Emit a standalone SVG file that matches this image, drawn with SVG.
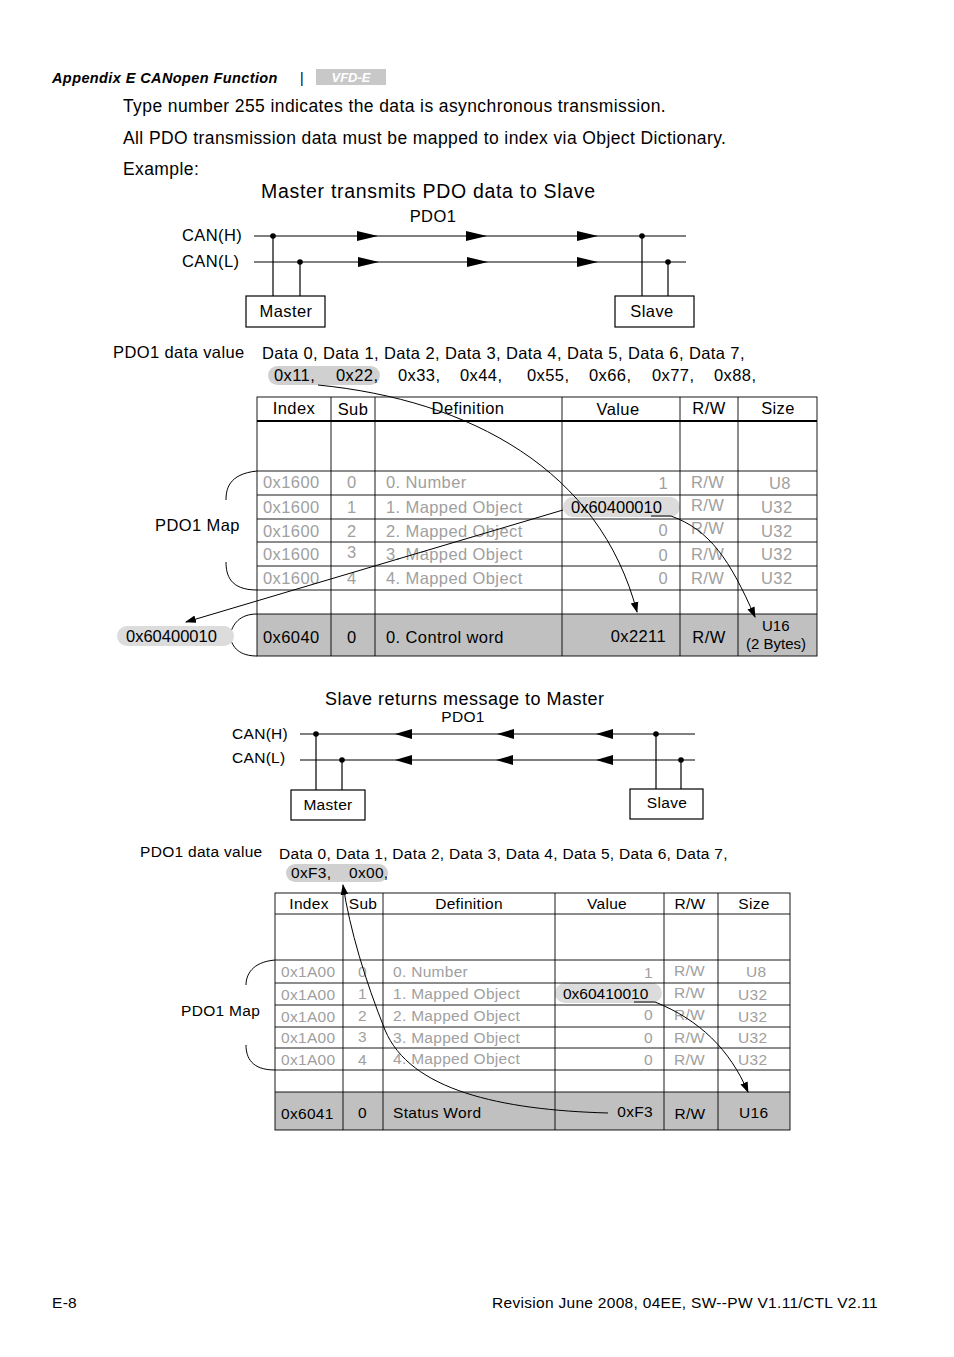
<svg xmlns="http://www.w3.org/2000/svg" width="954" height="1357" viewBox="0 0 954 1357">
<style>
text{font-family:"Liberation Sans",Arial,sans-serif;fill:#000}
.b{font-size:17.5px;letter-spacing:0.4px}
.t{font-size:16.5px;letter-spacing:0.4px}
.s{font-size:15.5px;letter-spacing:0.3px}
.g text{fill:#a0a0a0}
.ln{stroke:#000;stroke-width:1.2;fill:none}
.th{stroke:#000;stroke-width:0.9;fill:none}
.c{stroke:#000;stroke-width:1;fill:none}
.e{text-anchor:end}
.m{text-anchor:middle}
</style>
<defs>
<marker id="ah" viewBox="0 0 10 10" refX="9" refY="5" markerWidth="11" markerHeight="11" markerUnits="userSpaceOnUse" orient="auto"><path d="M0,1.5 L10,5 L0,8.5 Z" fill="#000"/></marker>
</defs>
<rect width="954" height="1357" fill="#fff"/>
<g id="header">
<text x="52" y="83" style="font-size:14.5px;font-weight:bold;font-style:italic;letter-spacing:0.4px">Appendix E  CANopen Function</text>
<text x="300" y="83" style="font-size:14px">|</text>
<rect x="316" y="69" width="70" height="16" fill="#c8c8c8"/>
<text x="351" y="82" class="m" style="font-size:13px;font-weight:bold;font-style:italic;fill:#fff">VFD-E</text>
</g>
<g id="intro">
<text x="123" y="112" class="b">Type number 255 indicates the data is asynchronous transmission.</text>
<text x="123" y="144" class="b">All PDO transmission data must be mapped to index via Object Dictionary.</text>
<text x="123" y="175" class="b">Example:</text>
</g>
<g id="bus1">
<text x="261" y="198" style="font-size:19.5px;letter-spacing:0.7px">Master transmits PDO data to Slave</text>
<text x="433" y="222" class="t m">PDO1</text>
<text x="182" y="241" class="t">CAN(H)</text>
<text x="182" y="267" class="t">CAN(L)</text>
<line class="ln" x1="254" y1="236" x2="686" y2="236"/>
<line class="ln" x1="254" y1="262" x2="686" y2="262"/>
<line class="ln" x1="273" y1="236" x2="273" y2="296"/>
<line class="ln" x1="300" y1="262" x2="300" y2="296"/>
<line class="ln" x1="642" y1="236" x2="642" y2="296"/>
<line class="ln" x1="668" y1="262" x2="668" y2="296"/>
<circle cx="273" cy="236" r="2.8"/><circle cx="300" cy="262" r="2.8"/>
<circle cx="642" cy="236" r="2.8"/><circle cx="668" cy="262" r="2.8"/>
<path d="M357,231 L378,236 L357,241Z M466,231 L487,236 L466,241Z M577,231 L598,236 L577,241Z M358,257 L379,262 L358,267Z M467,257 L488,262 L467,267Z M577,257 L598,262 L577,267Z"/>
</g>
<g id="master1"><rect class="ln" x="246" y="296" width="79" height="31"/><text x="286" y="317" class="t m">Master</text></g>
<g id="slave1"><rect class="ln" x="615" y="296" width="79" height="31"/><text x="652" y="317" class="t m">Slave</text></g>
<g id="data1">
<text x="113" y="358" class="t">PDO1 data value</text>
<text x="262" y="359" class="t">Data 0, Data 1, Data 2, Data 3, Data 4, Data 5, Data 6, Data 7,</text>
<rect x="268" y="366" width="112" height="19" rx="9.5" fill="#d0d0d0"/>
<g class="t">
<text x="274" y="381">0x11,</text><text x="336" y="381">0x22,</text><text x="398" y="381">0x33,</text><text x="460" y="381">0x44,</text><text x="527" y="381">0x55,</text><text x="589" y="381">0x66,</text><text x="652" y="381">0x77,</text><text x="714" y="381">0x88,</text>
</g>
</g>
<g id="table1">
<rect x="257" y="614" width="560" height="42" fill="#c0c0c0"/>
<rect x="563" y="497" width="117" height="20" rx="10" fill="#dcdcdc"/>
<rect class="th" x="257" y="397" width="560" height="259"/>
<line x1="257" y1="421" x2="817" y2="421" stroke="#000" stroke-width="2.2"/>
<path class="th" d="M257,471H817M257,495H817M257,519H817M257,542H817M257,566H817M257,590H817M257,614H817M331,397V656M375,397V656M562,397V656M680,397V656M738,397V656"/>
<g class="t">
<text x="294" y="414" class="m">Index</text><text x="353" y="415" class="m">Sub</text><text x="468" y="414" class="m">Definition</text><text x="618" y="415" class="m">Value</text><text x="709" y="414" class="m">R/W</text><text x="778" y="414" class="m">Size</text>
</g>
<g class="t g">
<text x="263" y="488">0x1600</text><text x="347" y="488">0</text><text x="386" y="488">0. Number</text><text x="668" y="489" class="e">1</text><text x="691" y="488">R/W</text><text x="769" y="489">U8</text>
<text x="263" y="513">0x1600</text><text x="347" y="513">1</text><text x="386" y="513">1. Mapped Object</text><text x="691" y="511">R/W</text><text x="761" y="513">U32</text>
<text x="263" y="537">0x1600</text><text x="347" y="537">2</text><text x="386" y="537">2. Mapped Object</text><text x="668" y="536" class="e">0</text><text x="691" y="534">R/W</text><text x="761" y="537">U32</text>
<text x="263" y="560">0x1600</text><text x="347" y="558">3</text><text x="386" y="560">3. Mapped Object</text><text x="668" y="561" class="e">0</text><text x="691" y="560">R/W</text><text x="761" y="560">U32</text>
<text x="263" y="584">0x1600</text><text x="347" y="584">4</text><text x="386" y="584">4. Mapped Object</text><text x="668" y="584" class="e">0</text><text x="691" y="584">R/W</text><text x="761" y="584">U32</text>
</g>
<text x="571" y="513" class="t" style="letter-spacing:0px">0x60400010</text>
<line class="c" x1="651" y1="516" x2="671" y2="516"/>
<g class="t">
<text x="263" y="643">0x6040</text><text x="347" y="643">0</text><text x="386" y="643">0. Control word</text><text x="666" y="642" class="e">0x2211</text><text x="709" y="643" class="m">R/W</text>
</g>
<text x="762" y="631" style="font-size:15px">U16</text><text x="746" y="649" style="font-size:15px">(2 Bytes)</text>
<path class="c" d="M257,471 C228,474 226,490 226,500 M226,562 C226,575 230,590 257,590"/>
<path class="c" d="M257,614 C240,614 232,624 230,636 C232,648 240,656 257,656"/>
<text x="155" y="531" class="t">PDO1 Map</text>
<rect x="117" y="626" width="117" height="20" rx="10" fill="#dcdcdc"/>
<text x="126" y="642" class="t" style="letter-spacing:0px">0x60400010</text>
</g>
<g id="connectors1">
<path class="c" marker-end="url(#ah)" d="M318,385 C470,400 600,470 637,612"/>
<path class="c" marker-end="url(#ah)" d="M563,510 L186,622"/>
<path class="c" marker-end="url(#ah)" d="M671,516 C710,530 730,560 755,617"/>
</g>
<g id="bus2">
<text x="325" y="705" style="font-size:18px;letter-spacing:0.5px">Slave  returns message to Master</text>
<text x="463" y="722" class="s m">PDO1</text>
<text x="232" y="739" class="s">CAN(H)</text>
<text x="232" y="763" class="s">CAN(L)</text>
<line class="ln" x1="300" y1="734" x2="695" y2="734"/>
<line class="ln" x1="300" y1="760" x2="695" y2="760"/>
<line class="ln" x1="316" y1="734" x2="316" y2="790"/>
<line class="ln" x1="342" y1="760" x2="342" y2="790"/>
<line class="ln" x1="656" y1="734" x2="656" y2="789"/>
<line class="ln" x1="681" y1="760" x2="681" y2="789"/>
<circle cx="316" cy="734" r="2.8"/><circle cx="342" cy="760" r="2.8"/>
<circle cx="656" cy="734" r="2.8"/><circle cx="681" cy="760" r="2.8"/>
<path d="M395,734 L412,729 L412,739Z M497,734 L514,729 L514,739Z M596,734 L613,729 L613,739Z M395,760 L412,755 L412,765Z M496,760 L513,755 L513,765Z M596,760 L613,755 L613,765Z"/>
</g>
<g id="master2"><rect class="ln" x="291" y="790" width="74" height="30"/><text x="328" y="810" class="s m">Master</text></g>
<g id="slave2"><rect class="ln" x="630" y="789" width="73" height="30"/><text x="667" y="808" class="s m">Slave</text></g>
<g id="data2">
<text x="140" y="857" class="s">PDO1 data value</text>
<text x="279" y="859" class="s">Data 0, Data 1, Data 2, Data 3, Data 4, Data 5, Data 6, Data 7,</text>
<rect x="286" y="864" width="102" height="18" rx="9" fill="#d0d0d0"/>
<g class="s"><text x="291" y="878">0xF3,</text><text x="349" y="878">0x00,</text></g>
</g>
<g id="table2">
<rect x="275" y="1092" width="515" height="38" fill="#c0c0c0"/>
<rect x="555" y="983" width="107" height="20" rx="10" fill="#dcdcdc"/>
<rect class="th" x="275" y="893" width="515" height="237"/>
<path class="th" d="M275,914H790M275,960H790M275,983H790M275,1005H790M275,1027H790M275,1048H790M275,1070H790M275,1092H790M343,893V1130M383,893V1130M555,893V1130M664,893V1130M718,893V1130"/>
<g class="s">
<text x="309" y="909" class="m">Index</text><text x="363" y="909" class="m">Sub</text><text x="469" y="909" class="m">Definition</text><text x="607" y="909" class="m">Value</text><text x="690" y="909" class="m">R/W</text><text x="754" y="909" class="m">Size</text>
</g>
<g class="s g">
<text x="281" y="977">0x1A00</text><text x="358" y="977">0</text><text x="393" y="977">0. Number</text><text x="653" y="978" class="e">1</text><text x="674" y="976">R/W</text><text x="746" y="977">U8</text>
<text x="281" y="1000">0x1A00</text><text x="358" y="999">1</text><text x="393" y="999">1. Mapped Object</text><text x="674" y="998">R/W</text><text x="738" y="1000">U32</text>
<text x="281" y="1022">0x1A00</text><text x="358" y="1021">2</text><text x="393" y="1021">2. Mapped Object</text><text x="653" y="1020" class="e">0</text><text x="674" y="1020">R/W</text><text x="738" y="1022">U32</text>
<text x="281" y="1043">0x1A00</text><text x="358" y="1042">3</text><text x="393" y="1043">3. Mapped Object</text><text x="653" y="1043" class="e">0</text><text x="674" y="1043">R/W</text><text x="738" y="1043">U32</text>
<text x="281" y="1065">0x1A00</text><text x="358" y="1065">4</text><text x="393" y="1064">4. Mapped Object</text><text x="653" y="1065" class="e">0</text><text x="674" y="1065">R/W</text><text x="738" y="1065">U32</text>
</g>
<text x="563" y="999" class="s" style="letter-spacing:0px">0x60410010</text>
<line class="c" x1="634" y1="1002" x2="655" y2="1002"/>
<g class="s">
<text x="281" y="1119">0x6041</text><text x="358" y="1118">0</text><text x="393" y="1118">Status Word</text><text x="653" y="1117" class="e">0xF3</text><text x="690" y="1119" class="m">R/W</text><text x="739" y="1118">U16</text>
</g>
<path class="c" d="M275,960 C252,962 246,975 246,985 M246,1045 C246,1058 252,1070 275,1070"/>
<text x="181" y="1016" class="s">PDO1 Map</text>
</g>
<g id="connectors2">
<path class="c" marker-end="url(#ah)" d="M608,1113 C500,1110 410,1090 385,1030 C365,980 350,930 343,885"/>
<path class="c" marker-end="url(#ah)" d="M655,1002 C700,1020 730,1050 748,1092"/>
</g>
<g id="footer">
<text x="52" y="1308" class="s">E-8</text>
<text x="878" y="1308" class="s e">Revision June 2008, 04EE, SW--PW V1.11/CTL V2.11</text>
</g>
</svg>
